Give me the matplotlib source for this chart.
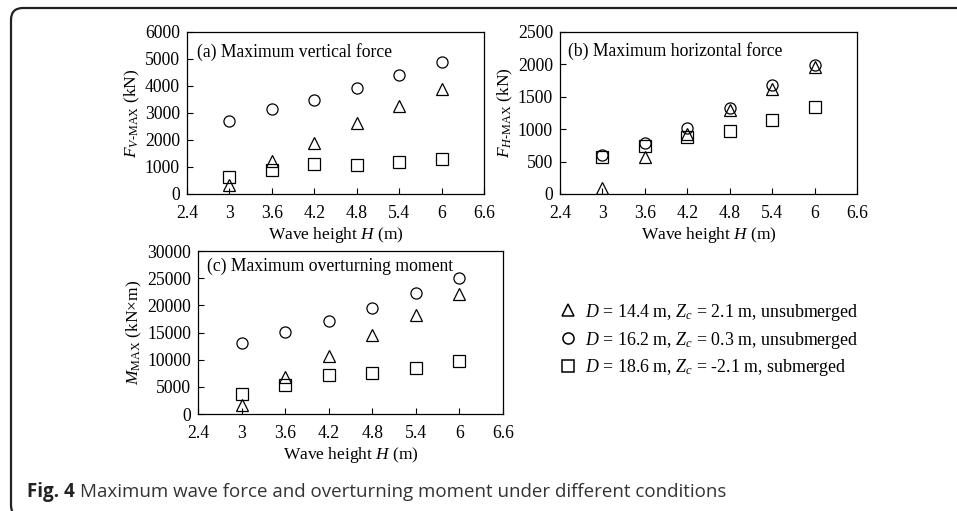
import matplotlib.pyplot as plt
from matplotlib.lines import Line2D
from matplotlib.patches import FancyBboxPatch
from matplotlib.transforms import IdentityTransform

plt.rcParams['font.family'] = 'Liberation Serif'
plt.rcParams['mathtext.fontset'] = 'custom'
plt.rcParams['mathtext.rm'] = 'Liberation Serif'
plt.rcParams['mathtext.it'] = 'Liberation Serif:italic'
plt.rcParams['font.size'] = 12.7

wave_height = [3.0, 3.6, 4.2, 4.8, 5.4, 6.0]

# (a) vertical force, kN
fv_d144 = [350, 1230, 1900, 2620, 3260, 3890]
fv_d162 = [2720, 3140, 3490, 3910, 4420, 4900]
fv_d186 = [620, 900, 1100, 1080, 1170, 1280]

# (b) horizontal force, kN
fh_d144 = [95, 570, 930, 1290, 1625, 1960]
fh_d162 = [597, 787, 1020, 1327, 1677, 1996]
fh_d186 = [571, 736, 880, 967, 1147, 1337]

# (c) overturning moment, kN*m
m_d144 = [1750, 6800, 10750, 14600, 18300, 22050]
m_d162 = [13070, 15150, 17120, 19510, 22270, 25030]
m_d186 = [3680, 5400, 7120, 7610, 8470, 9690]

labels = [r'$D$ = 14.4 m, $Z_c$ = 2.1 m, unsubmerged',
          r'$D$ = 16.2 m, $Z_c$ = 0.3 m, unsubmerged',
          r'$D$ = 18.6 m, $Z_c$ = -2.1 m, submerged']
markers = ['^', 'o', 's']
xticks = [2.4, 3, 3.6, 4.2, 4.8, 5.4, 6, 6.6]

fig = plt.figure(figsize=(9.57, 5.11), dpi=100)

# rounded frame around the figure
frame = FancyBboxPatch((11, -6), 1000, 509, boxstyle='round,pad=0,rounding_size=12',
                       transform=IdentityTransform(), fill=False, ec='#222222', lw=1.6)
fig.patches.append(frame)

ax_a = fig.add_axes([0.1954, 0.6204, 0.3103, 0.317])
ax_b = fig.add_axes([0.5852, 0.6204, 0.3103, 0.317])
ax_c = fig.add_axes([0.2069, 0.1898, 0.3187, 0.319])

panels = [
    (ax_a, [fv_d144, fv_d162, fv_d186], 6000, 1000, r'$F_{V\text{-MAX}}$ (kN)', '(a) Maximum vertical force', 0.034, 0.93),
    (ax_b, [fh_d144, fh_d162, fh_d186], 2500, 500, r'$F_{H\text{-MAX}}$ (kN)', '(b) Maximum horizontal force', 0.027, 0.94),
    (ax_c, [m_d144, m_d162, m_d186], 30000, 5000, r'$M_{\mathrm{MAX}}$ (kN$\times$m)', '(c) Maximum overturning moment', 0.03, 0.96),
]

for ax, series, ymax, ystep, ylab, title, tx, ty in panels:
    for vals, mk in zip(series, markers):
        ax.plot(wave_height, vals, linestyle='none', marker=mk, markersize=8,
                markerfacecolor='none', markeredgecolor='black', markeredgewidth=0.9)
    ax.set_xlim(2.4, 6.6)
    ax.set_ylim(0, ymax)
    ax.set_xticks(xticks)
    ax.set_xticklabels(['2.4', '3', '3.6', '4.2', '4.8', '5.4', '6', '6.6'])
    ax.set_yticks(range(0, ymax + 1, ystep))
    ax.tick_params(direction='in', length=4, width=0.8, labelsize=12.7)
    ax.tick_params(axis='x', pad=8)
    ax.tick_params(axis='y', pad=5)
    ax.tick_params(top=False, right=False)
    for s in ax.spines.values():
        s.set_linewidth(0.9)
    ax.set_xlabel('Wave height $H$ (m)', fontsize=12.5, labelpad=2)
    ax.set_ylabel(ylab, fontsize=12.5, labelpad=2)
    ax.text(tx, ty, title, transform=ax.transAxes, va='top', ha='left', fontsize=12.7)

handles = [Line2D([], [], linestyle='none', marker=mk, markersize=8, markerfacecolor='none',
                  markeredgecolor='black', markeredgewidth=1.1) for mk in markers]
fig.legend(handles, labels, loc='upper left', bbox_to_anchor=(0.577, 0.427), frameon=False,
           fontsize=12.9, handlelength=0.8, handletextpad=0.55, labelspacing=0.38, borderpad=0)

cap1 = fig.text(27 / 957, 1 - 497 / 511, 'Fig. 4', family='Open Sans', weight='bold',
                fontsize=13.5, color='#222222', va='baseline')
fig.canvas.draw()
bb = cap1.get_window_extent()
fig.text((bb.x1 + 5) / 957, 1 - 497 / 511,
         'Maximum wave force and overturning moment under different conditions',
         family='Open Sans', fontsize=13.5, color='#333333', va='baseline')

fig.savefig('out.png', dpi=100)
